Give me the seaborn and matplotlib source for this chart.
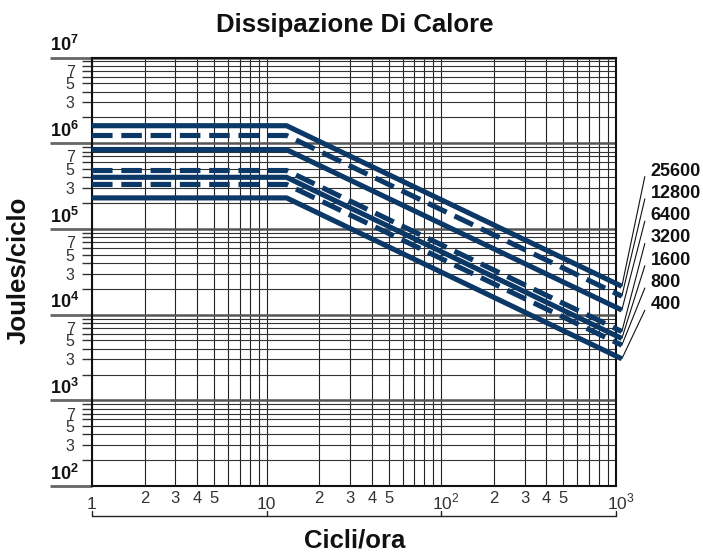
import numpy as np
import pandas as pd
import matplotlib
matplotlib.use('Agg')
import matplotlib.pyplot as plt
import matplotlib.transforms as mtransforms
import seaborn as sns

# dati
cicli = [1, 13, 1080]                      # cicli/ora: inizio, ginocchio, fine
serie = ['25600', '12800', '6400', '3200', '1600', '800', '400']
tratto = ['solid', 'dashed', 'solid', 'dashed', 'solid', 'dashed', 'solid']
plateau = [1.6e6, 1.23e6, 8.4e5, 4.8e5, 4.0e5, 3.3e5, 2.3e5]
fine = [2.14e4, 1.64e4, 1.13e4, 6.35e3, 5.27e3, 4.40e3, 3.05e3]

x_minor_lab = ['2', '3', '4', '5', '', '', '', '']
y_minor_lab = ['', '3', '', '5', '', '7', '', '']

rows = []
for s, t, p, f in zip(serie, tratto, plateau, fine):
    for c, j in zip(cicli, [p, p, f]):
        rows.append({'cicli': c, 'joules': j, 'serie': s, 'tratto': t})
df = pd.DataFrame(rows)

sns.set_theme(style='white')
plt.rcParams['font.family'] = ['Liberation Sans', 'DejaVu Sans']
plt.rcParams['mathtext.fontset'] = 'custom'
plt.rcParams['mathtext.rm'] = 'Liberation Sans'
plt.rcParams['mathtext.bf'] = 'Liberation Sans:bold'

navy = '#0b3866'
fig = plt.figure(figsize=(7.03, 5.58), dpi=100)
ax = fig.add_axes([92/703, 72/558, 524/703, 428.5/558])

sns.lineplot(data=df, x='cicli', y='joules', units='serie', estimator=None,
             style='tratto', dashes={'solid': '', 'dashed': (4, 1.7)},
             color=navy, lw=3.7, legend=False, sort=False, ax=ax,
             clip_on=False, zorder=5)
for l in ax.lines:
    l.set_solid_capstyle('butt')
    l.set_dash_capstyle('butt')

ax.set_xscale('log')
ax.set_yscale('log')
ax.set_xlim(1, 1000)
ax.set_ylim(1e2, 1e7)
ax.set_xlabel('')
ax.set_ylabel('')

# ticks x
decs_x = [1, 10, 100, 1000]
ax.set_xticks(decs_x, labels=['', '', '', ''])
xmin = [m * d for d in [1, 10, 100] for m in range(2, 10)]
ax.set_xticks(xmin, labels=x_minor_lab * 3, minor=True)
ax.tick_params(axis='x', which='both', length=0)
ax.tick_params(axis='x', which='minor', pad=3.5, labelsize=12, labelcolor='#333333')

# ticks y
decs_y = [1e2, 1e3, 1e4, 1e5, 1e6, 1e7]
ax.set_yticks(decs_y, labels=[''] * 6)
ymin = [m * d for d in [1e2, 1e3, 1e4, 1e5, 1e6] for m in range(2, 10)]
ax.set_yticks(ymin, labels=y_minor_lab * 5, minor=True)
ax.tick_params(axis='y', which='major', length=30, width=2, color='#666666', left=True)
ax.tick_params(axis='y', which='minor', length=7, width=1, color='#333333',
               pad=5.5, labelsize=11.5, labelcolor='#333333', left=True)

ax.grid(True, axis='x', which='both', color='#222222', lw=0.8)
ax.grid(True, axis='y', which='minor', color='#333333', lw=0.8)
ax.grid(True, axis='y', which='major', color='#555555', lw=1.8)
for sp in ax.spines.values():
    sp.set_color('#111111')
    sp.set_linewidth(1.5)

# etichette decadi y
ty = mtransforms.blended_transform_factory(ax.transAxes, ax.transData)
for k, d in enumerate(decs_y):
    ax.annotate(r'$\mathbf{10^{%d}}$' % (k + 2), xy=(-0.08, d), xycoords=ty,
                xytext=(0, 4.5), textcoords='offset points', ha='left',
                va='baseline', fontsize=13, color='#111111', annotation_clip=False)

# etichette decadi x
tx = mtransforms.blended_transform_factory(ax.transData, ax.transAxes)
for lab, d, dx in zip(['1', '10', r'10$^2$', r'10$^3$'], decs_x, [0, 0, 3.5, 3.5]):
    ax.annotate(lab, xy=(d, 0), xycoords=tx, xytext=(dx, -16.5),
                textcoords='offset points', ha='center', va='baseline',
                fontsize=12.5, color='#333333', annotation_clip=False)

# parentesi sotto l'asse x
ax.plot([1, 1000], [-0.070, -0.070], transform=tx, color='#222222', lw=1, clip_on=False)
for d in decs_x:
    ax.plot([d, d], [-0.070, -0.059], transform=tx, color='#222222', lw=1, clip_on=False)

# etichette serie con linee guida
for i, (s, f) in enumerate(zip(serie, fine)):
    yl = 0.735 - i * 0.052
    ax.text(1.066, yl, s, transform=ax.transAxes, ha='left', va='center',
            fontsize=13, fontweight='bold', color='#111111')
    ax.annotate('', xy=(1080, f), xycoords='data', xytext=(1.055, yl - 0.013),
                textcoords='axes fraction', annotation_clip=False,
                arrowprops=dict(arrowstyle='-', color='#111111', lw=0.8,
                                shrinkA=0, shrinkB=0))

fig.text(355/703, 1 - 25/558, 'Dissipazione Di Calore', ha='center', va='center',
         fontsize=18.5, fontweight='bold', color='#111111')
fig.text(355/703, 1 - 540/558, 'Cicli/ora', ha='center', va='center',
         fontsize=18.5, fontweight='bold', color='#111111')
fig.text(18/703, 1 - 270/558, 'Joules/ciclo', ha='center', va='center',
         rotation=90, fontsize=18.5, fontweight='bold', color='#111111')

fig.savefig('out.png', dpi=100)
